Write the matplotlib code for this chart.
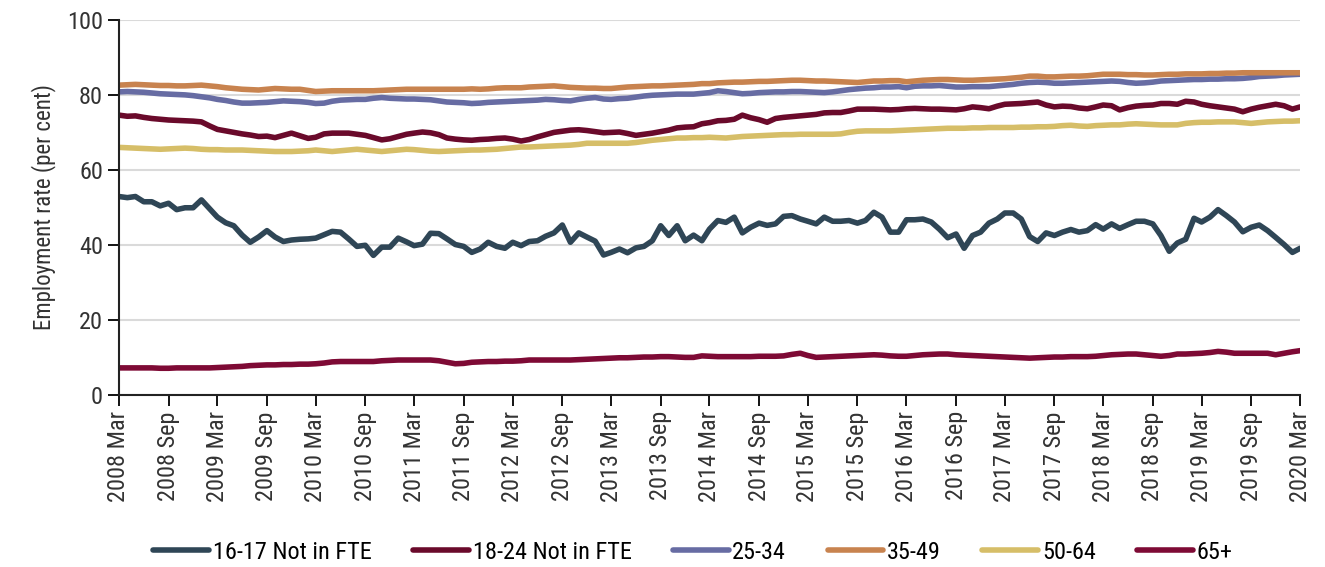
import numpy as np
import pandas as pd
import matplotlib
matplotlib.use("Agg")
import matplotlib.pyplot as plt

plt.rcParams['font.family'] = ['Liberation Sans Narrow', 'Roboto Condensed', 'DejaVu Sans']

# monthly, 2008 Mar .. 2020 Mar
months = pd.date_range('2008-03-01', '2020-03-01', freq='MS')

age_16_17 = [
    52.8, 52.5, 52.8, 51.4, 51.4, 50.3, 51.0, 49.3, 49.8, 49.8, 51.9, 49.5,
    47.3, 45.8, 45.0, 42.5, 40.6, 42.0, 43.7, 42.0, 40.8, 41.2, 41.4, 41.5,
    41.7, 42.6, 43.5, 43.3, 41.5, 39.5, 39.8, 37.1, 39.3, 39.3, 41.7, 40.7,
    39.7, 40.1, 43.0, 42.9, 41.5, 40.0, 39.5, 37.9, 38.8, 40.6, 39.5, 39.0,
    40.6, 39.7, 40.8, 41.0, 42.2, 43.1, 45.2, 40.6, 43.1, 42.0, 40.9, 37.2,
    37.9, 38.8, 37.8, 39.1, 39.5, 41.0, 45.0, 42.4, 45.0, 41.0, 42.5, 41.0,
    44.1, 46.4, 45.9, 47.3, 43.1, 44.6, 45.7, 45.1, 45.5, 47.5, 47.7, 46.8,
    46.2, 45.5, 47.3, 46.2, 46.2, 46.4, 45.7, 46.4, 48.6, 47.3, 43.3, 43.3,
    46.6, 46.6, 46.8, 46.0, 44.1, 41.8, 42.8, 39.0, 42.4, 43.3, 45.7, 46.8,
    48.4, 48.4, 46.8, 42.1, 40.8, 43.1, 42.4, 43.3, 44.0, 43.3, 43.7, 45.3,
    44.1, 45.5, 44.3, 45.3, 46.2, 46.2, 45.5, 42.4, 38.2, 40.4, 41.4, 47.0,
    46.0, 47.3, 49.3, 47.7, 46.0, 43.4, 44.6, 45.2, 43.7, 41.9, 40.0, 37.9, 39.0]

age_18_24 = [
    74.5, 74.2, 74.3, 73.9, 73.6, 73.4, 73.2, 73.1, 73.0, 72.9, 72.7, 71.6,
    70.7, 70.3, 69.9, 69.5, 69.2, 68.8, 68.9, 68.5, 69.1, 69.7, 69.0, 68.3,
    68.6, 69.5, 69.7, 69.7, 69.7, 69.4, 69.1, 68.5, 67.9, 68.2, 68.8, 69.4,
    69.7, 70.0, 69.8, 69.3, 68.4, 68.1, 67.9, 67.8, 68.0, 68.1, 68.3, 68.4,
    68.1, 67.6, 68.0, 68.7, 69.3, 69.9, 70.2, 70.5, 70.6, 70.4, 70.1, 69.8,
    69.9, 70.0, 69.6, 69.1, 69.4, 69.7, 70.1, 70.5, 71.1, 71.3, 71.4, 72.2,
    72.5, 73.0, 73.1, 73.4, 74.5, 73.8, 73.3, 72.6, 73.6, 73.9, 74.1, 74.3,
    74.5, 74.7, 75.1, 75.2, 75.2, 75.6, 76.1, 76.1, 76.1, 76.0, 75.9, 76.0,
    76.2, 76.3, 76.2, 76.1, 76.1, 76.0, 75.9, 76.2, 76.7, 76.5, 76.2, 76.9,
    77.4, 77.5, 77.6, 77.8, 78.0, 77.2, 76.7, 76.9, 76.8, 76.4, 76.2, 76.7,
    77.2, 77.0, 75.9, 76.5, 76.9, 77.1, 77.2, 77.6, 77.6, 77.4, 78.2, 78.0,
    77.4, 77.0, 76.7, 76.4, 76.1, 75.4, 76.1, 76.6, 77.0, 77.4, 77.0, 76.1, 76.7]

age_25_34 = [
    80.7, 80.8, 80.7, 80.6, 80.4, 80.2, 80.1, 80.0, 79.9, 79.7, 79.4, 79.1,
    78.7, 78.4, 78.0, 77.7, 77.7, 77.8, 77.9, 78.1, 78.3, 78.2, 78.1, 77.9,
    77.6, 77.7, 78.2, 78.5, 78.6, 78.7, 78.7, 79.0, 79.2, 79.0, 78.9, 78.8,
    78.8, 78.7, 78.6, 78.3, 78.0, 77.9, 77.8, 77.6, 77.7, 77.9, 78.0, 78.1,
    78.2, 78.3, 78.4, 78.5, 78.7, 78.6, 78.4, 78.3, 78.7, 79.0, 79.2, 78.8,
    78.7, 78.9, 79.0, 79.3, 79.6, 79.8, 79.9, 80.0, 80.1, 80.1, 80.1, 80.3,
    80.5, 81.0, 80.8, 80.5, 80.2, 80.3, 80.5, 80.6, 80.7, 80.7, 80.8, 80.8,
    80.7, 80.6, 80.5, 80.7, 81.0, 81.3, 81.5, 81.7, 81.8, 82.0, 82.0, 82.1,
    81.8, 82.2, 82.3, 82.3, 82.4, 82.2, 82.0, 82.0, 82.1, 82.1, 82.1, 82.3,
    82.5, 82.7, 83.0, 83.2, 83.3, 83.2, 83.0, 83.0, 83.1, 83.2, 83.3, 83.4,
    83.5, 83.6, 83.5, 83.2, 83.0, 83.1, 83.3, 83.6, 83.7, 83.8, 83.9, 84.0,
    84.0, 84.1, 84.1, 84.2, 84.2, 84.3, 84.5, 84.8, 84.9, 85.0, 85.2, 85.3, 85.4]

age_35_49 = [
    82.5, 82.6, 82.7, 82.6, 82.5, 82.4, 82.4, 82.3, 82.3, 82.4, 82.5, 82.3,
    82.1, 81.8, 81.6, 81.4, 81.3, 81.2, 81.4, 81.6, 81.5, 81.4, 81.4, 81.1,
    80.8, 80.9, 81.0, 81.0, 81.0, 81.0, 81.0, 81.0, 81.1, 81.2, 81.3, 81.4,
    81.4, 81.4, 81.4, 81.4, 81.4, 81.4, 81.4, 81.5, 81.4, 81.5, 81.7, 81.8,
    81.8, 81.8, 82.0, 82.1, 82.2, 82.3, 82.1, 81.9, 81.8, 81.7, 81.7, 81.6,
    81.6, 81.8, 82.0, 82.1, 82.2, 82.3, 82.3, 82.4, 82.5, 82.6, 82.7, 82.9,
    82.9, 83.1, 83.2, 83.3, 83.3, 83.4, 83.5, 83.5, 83.6, 83.7, 83.8, 83.8,
    83.7, 83.6, 83.6, 83.5, 83.4, 83.3, 83.2, 83.4, 83.6, 83.6, 83.7, 83.7,
    83.4, 83.6, 83.8, 83.9, 84.0, 84.0, 83.9, 83.8, 83.8, 83.9, 84.0, 84.1,
    84.2, 84.4, 84.6, 84.9, 84.9, 84.7, 84.7, 84.8, 84.9, 84.9, 85.0, 85.2,
    85.4, 85.4, 85.4, 85.3, 85.3, 85.2, 85.2, 85.3, 85.4, 85.4, 85.5, 85.5,
    85.5, 85.6, 85.6, 85.7, 85.7, 85.8, 85.8, 85.8, 85.8, 85.8, 85.8, 85.8, 85.8]

age_50_64 = [
    65.9, 65.8, 65.7, 65.6, 65.5, 65.4, 65.5, 65.6, 65.7, 65.6, 65.4, 65.3,
    65.3, 65.2, 65.2, 65.2, 65.1, 65.0, 64.9, 64.8, 64.8, 64.8, 64.9, 65.0,
    65.2, 65.0, 64.8, 65.0, 65.2, 65.4, 65.2, 65.0, 64.8, 65.0, 65.2, 65.4,
    65.3, 65.1, 64.9, 64.8, 64.9, 65.0, 65.1, 65.2, 65.2, 65.3, 65.4, 65.6,
    65.8, 66.0, 66.0, 66.1, 66.2, 66.3, 66.4, 66.5, 66.7, 67.0, 67.0, 67.0,
    67.0, 67.0, 67.0, 67.2, 67.5, 67.8, 68.0, 68.2, 68.4, 68.4, 68.5, 68.5,
    68.6, 68.5, 68.4, 68.6, 68.8, 68.9, 69.0, 69.1, 69.2, 69.3, 69.3, 69.4,
    69.4, 69.4, 69.4, 69.4, 69.5, 69.9, 70.2, 70.3, 70.3, 70.3, 70.3, 70.4,
    70.5, 70.6, 70.7, 70.8, 70.9, 71.0, 71.0, 71.0, 71.1, 71.1, 71.2, 71.2,
    71.2, 71.2, 71.3, 71.3, 71.4, 71.4, 71.5, 71.7, 71.8, 71.6, 71.5, 71.7,
    71.8, 71.9, 71.9, 72.1, 72.2, 72.1, 72.0, 71.9, 71.9, 71.9, 72.3, 72.5,
    72.6, 72.6, 72.7, 72.7, 72.7, 72.5, 72.3, 72.5, 72.7, 72.8, 72.9, 72.9, 73.0]

age_65 = [
    7.1, 7.1, 7.1, 7.1, 7.1, 7.0, 7.0, 7.1, 7.1, 7.1, 7.1, 7.1,
    7.2, 7.3, 7.4, 7.5, 7.7, 7.8, 7.9, 7.9, 8.0, 8.0, 8.1, 8.1,
    8.2, 8.4, 8.7, 8.8, 8.8, 8.8, 8.8, 8.8, 9.0, 9.1, 9.2, 9.2,
    9.2, 9.2, 9.2, 9.0, 8.6, 8.2, 8.3, 8.6, 8.7, 8.8, 8.8, 8.9,
    8.9, 9.0, 9.2, 9.2, 9.2, 9.2, 9.2, 9.2, 9.3, 9.4, 9.5, 9.6,
    9.7, 9.8, 9.8, 9.9, 10.0, 10.0, 10.1, 10.1, 10.0, 9.9, 9.9, 10.3,
    10.2, 10.1, 10.1, 10.1, 10.1, 10.1, 10.2, 10.2, 10.2, 10.3, 10.7, 11.0,
    10.4, 9.9, 10.0, 10.1, 10.2, 10.3, 10.4, 10.5, 10.6, 10.5, 10.3, 10.2,
    10.2, 10.4, 10.6, 10.7, 10.8, 10.8, 10.6, 10.5, 10.4, 10.3, 10.2, 10.1,
    10.0, 9.9, 9.8, 9.7, 9.8, 9.9, 10.0, 10.0, 10.1, 10.1, 10.1, 10.2,
    10.4, 10.6, 10.7, 10.8, 10.8, 10.6, 10.4, 10.2, 10.4, 10.8, 10.8, 10.9,
    11.0, 11.2, 11.5, 11.3, 11.0, 11.0, 11.0, 11.0, 11.0, 10.6, 11.0, 11.4, 11.7]

series = [
    ('16-17 Not in FTE', age_16_17, '#2F4656'),
    ('18-24 Not in FTE', age_18_24, '#6A0A2B'),
    ('25-34', age_25_34, '#676CA3'),
    ('35-49', age_35_49, '#C8834F'),
    ('50-64', age_50_64, '#D6BE68'),
    ('65+', age_65, '#7E0A35'),
]

fig = plt.figure(figsize=(13.25, 5.67), dpi=100)
ax = fig.add_axes([0.0898, 0.3042, 0.8915, 0.6614])

for name, vals, col in series:
    ax.plot(months, vals, color=col, lw=4.0, label=name, solid_capstyle='round')

ax.set_ylim(0, 100)
ax.set_yticks(range(0, 101, 20))
ax.set_xlim(months[0], months[-1])
ax.grid(axis='y', color='#DADADA', lw=1.5)
ax.set_axisbelow(True)

ticks = months[::6]
ax.set_xticks(ticks)
ax.set_xticklabels([d.strftime('%Y %b') for d in ticks], rotation=90, fontsize=17.5, color='#333333')
ax.tick_params(axis='y', labelsize=17.5, labelcolor='#333333', length=8, width=1.3, direction='out')
ax.tick_params(axis='x', length=8, width=1.3, direction='out', pad=4)

for s in ['top', 'right']:
    ax.spines[s].set_visible(False)
for s in ['left', 'bottom']:
    ax.spines[s].set_linewidth(1.5)
    ax.spines[s].set_color('#222222')

ax.set_ylabel('Employment rate (per cent)', fontsize=16.5, color='#333333', labelpad=8)

fig.legend(loc='center', bbox_to_anchor=(0.523, 0.026), ncol=6, frameon=False,
           fontsize=17.5, handlelength=2.3, columnspacing=1.7, handletextpad=0.15)

fig.savefig('out.png', dpi=100)
